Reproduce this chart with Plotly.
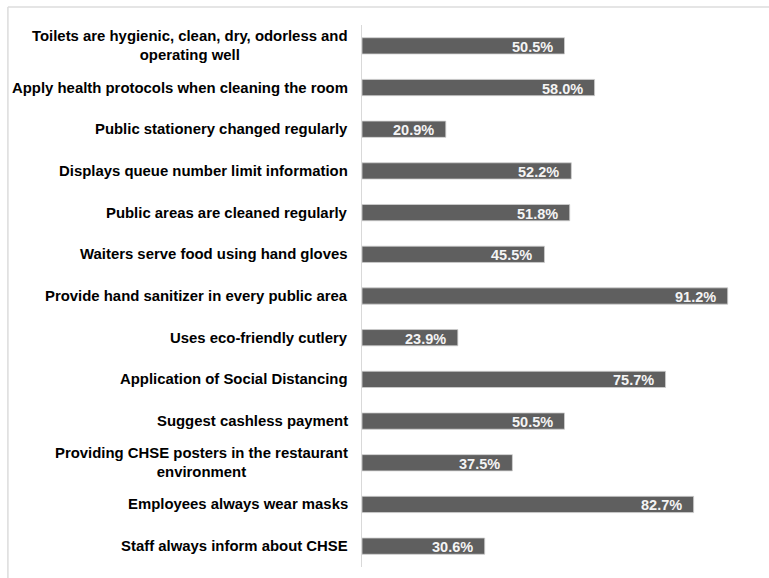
import plotly.graph_objects as go

# Survey items, listed top to bottom
categories = [
    "Toilets are hygienic, clean, dry, odorless and<br>operating well",
    "Apply health protocols when cleaning the room",
    "Public stationery changed regularly",
    "Displays queue number limit information",
    "Public areas are cleaned regularly",
    "Waiters serve food using hand gloves",
    "Provide hand sanitizer in every public area",
    "Uses eco-friendly cutlery",
    "Application of Social Distancing",
    "Suggest cashless payment",
    "Providing CHSE posters in the restaurant<br>environment",
    "Employees always wear masks",
    "Staff always inform about CHSE",
]
percentages = [50.5, 58.0, 20.9, 52.2, 51.8, 45.5, 91.2, 23.9, 75.7, 50.5, 37.5, 82.7, 30.6]

FONT = "Liberation Sans, Arial, sans-serif"
BAR = "#5f5f5f"
GRID = "#d9d9d9"

fig = go.Figure(
    go.Bar(
        x=percentages,
        y=categories,
        orientation="h",
        width=0.39,
        marker=dict(color=BAR, line=dict(color="#cfcfcf", width=0.8)),
        hoverinfo="skip",
    )
)

annotations = []
# value labels inside the bar ends
for cat, val in zip(categories, percentages):
    annotations.append(dict(
        x=val, y=cat, xref="x", yref="y",
        text=f"<b>{val:.1f}%</b>", showarrow=False,
        xanchor="right", yanchor="middle", xshift=-10, yshift=-1,
        font=dict(family=FONT, size=14.5, color="#f4f4f4"),
    ))
    # category labels, centred lines, right-aligned block
    annotations.append(dict(
        x=0, y=cat, xref="x", yref="y",
        text=f"<b>{cat}</b>", showarrow=False,
        xanchor="right", yanchor="middle", xshift=-12, align="center",
        font=dict(family=FONT, size=14.9, color="#000000"),
    ))

fig.update_layout(
    width=769, height=578,
    margin=dict(l=362, r=6, t=25, b=11),
    paper_bgcolor="white", plot_bgcolor="white",
    showlegend=False,
    annotations=annotations,
    xaxis=dict(range=[0, 100], visible=False, fixedrange=True),
    yaxis=dict(
        autorange="reversed", showticklabels=False, ticks="",
        showgrid=False, zeroline=False,
        showline=True, linecolor=GRID, linewidth=1,
    ),
    shapes=[
        # outer frame (top and left edges visible)
        dict(type="line", xref="paper", yref="paper",
             x0=-0.883, x1=1.05, y0=1.033, y1=1.033,
             line=dict(color="#dcdcdc", width=1.5)),
        dict(type="line", xref="paper", yref="paper",
             x0=-0.883, x1=-0.883, y0=1.033, y1=-0.05,
             line=dict(color="#dcdcdc", width=1.5)),
    ],
)

fig.write_html("out.html")
